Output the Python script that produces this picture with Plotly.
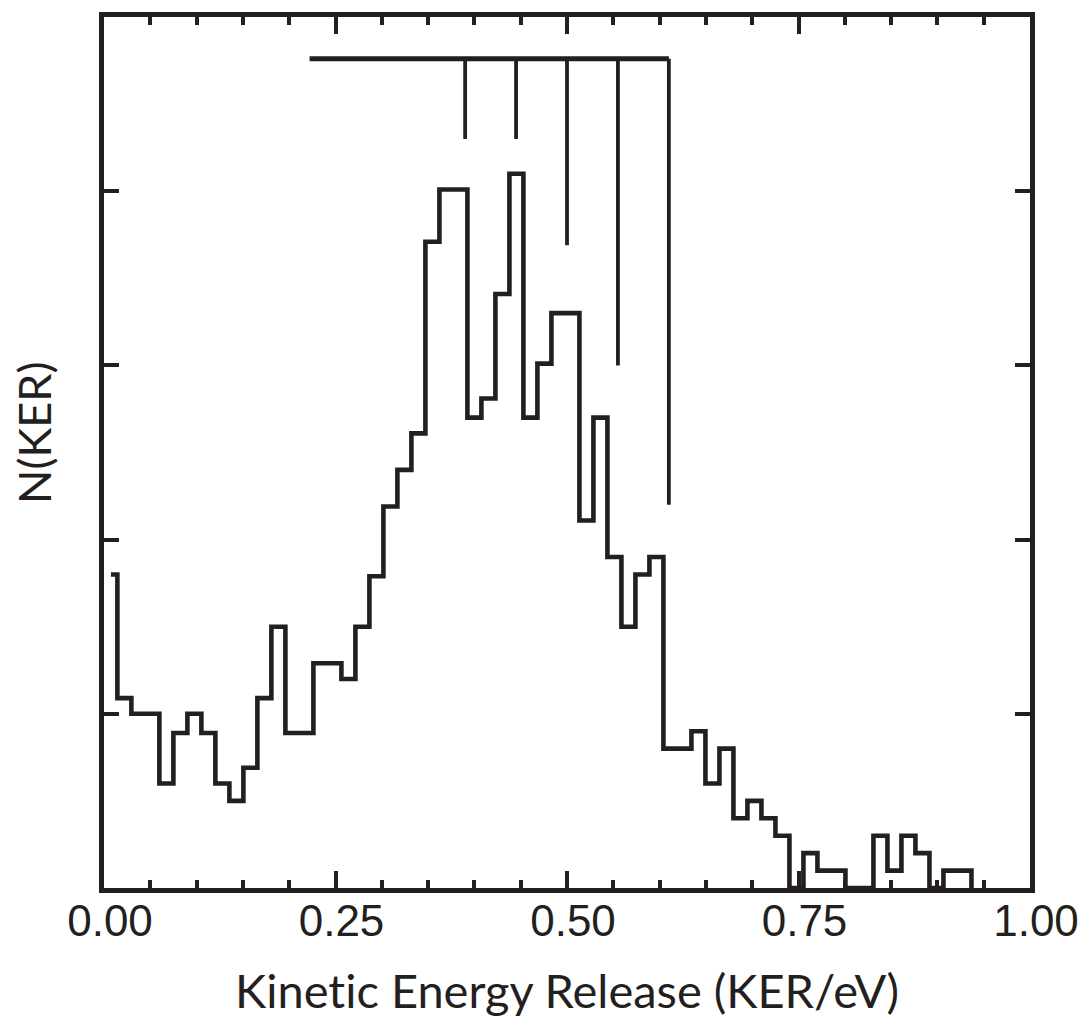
import plotly.graph_objects as go

# ---- data ----
# histogram counts (arbitrary units, y-axis ticks at 1..4), uniform bins
first_left_edge = 0.0075      # left end of the first (partly hidden) bin
first_edge = 0.01445          # first full bin edge
bin_width = 0.01512
counts = [1.80, 1.09, 1.00, 1.00, 0.60, 0.89, 1.00, 0.89, 0.60, 0.50,
          0.69, 1.09, 1.50, 0.89, 0.89, 1.29, 1.29, 1.20, 1.50, 1.79,
          2.19, 2.40, 2.61, 3.71, 4.01, 4.01, 2.70, 2.81, 3.41, 4.10,
          2.70, 3.01, 3.30, 3.30, 2.11, 2.70, 1.90, 1.50, 1.80, 1.90,
          0.80, 0.80, 0.90, 0.60, 0.80, 0.40, 0.50, 0.40, 0.30, 0.00,
          0.20, 0.10, 0.10, 0.00, 0.00, 0.30, 0.10, 0.30, 0.20, 0.00,
          0.10, 0.10]

# vibrational progression comb
comb_x = [0.390, 0.445, 0.500, 0.555, 0.610]
comb_bottom = [4.30, 4.30, 3.69, 3.00, 2.20]
comb_top = 4.76
comb_left = 0.222

x_ticks = [0.00, 0.25, 0.50, 0.75, 1.00]
x_ticklabels = ["0.00", "0.25", "0.50", "0.75", "1.00"]
y_ticks = [0, 1, 2, 3, 4, 5]

# ---- build step line (left edges, last bin closed to zero) ----
edges = [first_left_edge] + [first_edge + bin_width * i for i in range(len(counts))]
step_x = edges + [edges[-1] + bin_width]
step_y = counts + [0.0]

INK = "#231f20"

fig = go.Figure()
fig.add_trace(go.Scatter(x=step_x, y=step_y, mode="lines",
                         line=dict(color=INK, width=4.6, shape="hv"),
                         hoverinfo="skip", showlegend=False))

# comb: horizontal bar
fig.add_trace(go.Scatter(x=[comb_left, comb_x[-1]], y=[comb_top, comb_top], mode="lines",
                         line=dict(color=INK, width=5), showlegend=False, hoverinfo="skip"))
vx, vy = [], []
for cx, cb in zip(comb_x, comb_bottom):
    vx += [cx, cx, None]
    vy += [comb_top, cb, None]
fig.add_trace(go.Scatter(x=vx, y=vy, mode="lines", line=dict(color=INK, width=3.8),
                         showlegend=False, hoverinfo="skip"))

fig.update_layout(
    width=1091, height=1021,
    margin=dict(l=104, r=54, t=15, b=133),
    paper_bgcolor="white", plot_bgcolor="white",
    showlegend=False,
    xaxis=dict(range=[0, 1], tickvals=x_ticks, ticktext=x_ticklabels,
               ticks="inside", ticklen=17, tickwidth=3.5, tickcolor=INK,
               minor=dict(dtick=0.05, ticks="inside", ticklen=8, tickwidth=3.5, tickcolor=INK),
               showline=True, linewidth=4.6, linecolor=INK, mirror="allticks",
               showgrid=False, zeroline=False,
               tickfont=dict(family="Liberation Sans, Arial", size=44, color=INK),
               ticklabelshift=6, ticklabelstandoff=-10),
    yaxis=dict(range=[0, 5], tickvals=y_ticks, showticklabels=False,
               ticks="inside", ticklen=15, tickwidth=3.5, tickcolor=INK,
               showline=True, linewidth=4.6, linecolor=INK, mirror="allticks",
               showgrid=False, zeroline=False),
    annotations=[
        dict(text="Kinet\u200cic Energy Release (KER/eV)", xref="paper", yref="paper",
             x=0.5, y=-0.1168, xanchor="center", yanchor="middle", showarrow=False,
             font=dict(family="Lato, Open Sans", size=47, color=INK)),
        dict(text="N(KER)", xref="paper", yref="paper", textangle=-90,
             x=-0.075, y=0.522, xanchor="center", yanchor="middle", showarrow=False,
             font=dict(family="Lato, Open Sans", size=45, color=INK)),
    ],
)

fig.write_html("out.html")
